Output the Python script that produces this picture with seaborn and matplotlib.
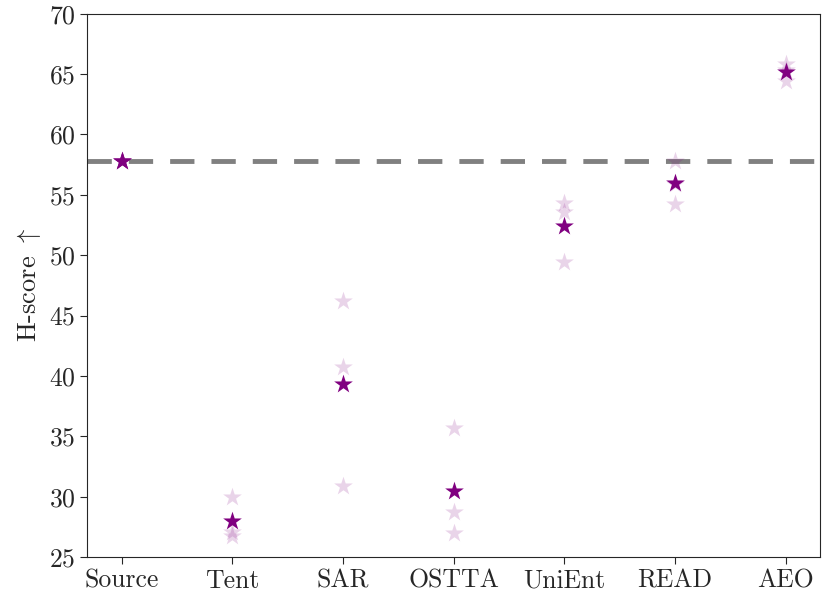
import matplotlib
matplotlib.use("Agg")
import matplotlib.pyplot as plt
import seaborn as sns
import pandas as pd

methods = ["Source", "Tent", "SAR", "OSTTA", "UniEnt", "READ", "AEO"]
# individual runs (light stars)
run_method = ["Tent", "Tent", "Tent", "SAR", "SAR", "SAR", "OSTTA", "OSTTA", "OSTTA",
              "UniEnt", "UniEnt", "UniEnt", "READ", "READ", "READ", "AEO", "AEO", "AEO"]
run_score = [30.0, 27.1, 26.7, 46.2, 40.7, 30.9, 35.7, 28.7, 27.0,
             54.3, 53.6, 49.4, 57.8, 54.2, 55.9, 65.8, 64.4, 65.3]
# mean score (dark stars)
mean_score = [57.8, 28.0, 39.3, 30.5, 52.4, 56.0, 65.2]
source_score = 57.8

sns.set_style("ticks")
plt.rcParams["font.family"] = "serif"
plt.rcParams["font.serif"] = ["cmr10", "DejaVu Serif"]
plt.rcParams["mathtext.fontset"] = "cm"
plt.rcParams["axes.formatter.use_mathtext"] = True

runs = pd.DataFrame({"method": run_method, "score": run_score})
means = pd.DataFrame({"method": methods, "score": mean_score})

f, ax = plt.subplots(figsize=(8.31, 5.97), dpi=100)
f.subplots_adjust(left=0.105, right=0.987, top=0.977, bottom=0.067)

sns.scatterplot(x="method", y="score", data=means.iloc[:1], marker="*", s=200,
                color="purple", linewidth=0, ax=ax, zorder=3)
sns.scatterplot(x="method", y="score", data=runs, marker="*", s=200,
                color="purple", alpha=0.17, linewidth=0, ax=ax, zorder=2)
sns.scatterplot(x="method", y="score", data=means, marker="*", s=200,
                color="purple", linewidth=0, ax=ax, zorder=3)
ax.axhline(source_score, color="gray", linestyle=(0, (5, 3.5)), linewidth=3.5, zorder=1)

ax.set_xlim(-0.31, 6.31)
ax.set_ylim(25, 70)
ax.set_xlabel("")
ax.set_ylabel(r"H-score $\uparrow$", fontsize=19)
ax.tick_params(labelsize=18.5, length=5)
for lab in ax.get_xticklabels() + ax.get_yticklabels():
    lab.set_fontfamily("serif")

f.savefig("out.png", dpi=100)
